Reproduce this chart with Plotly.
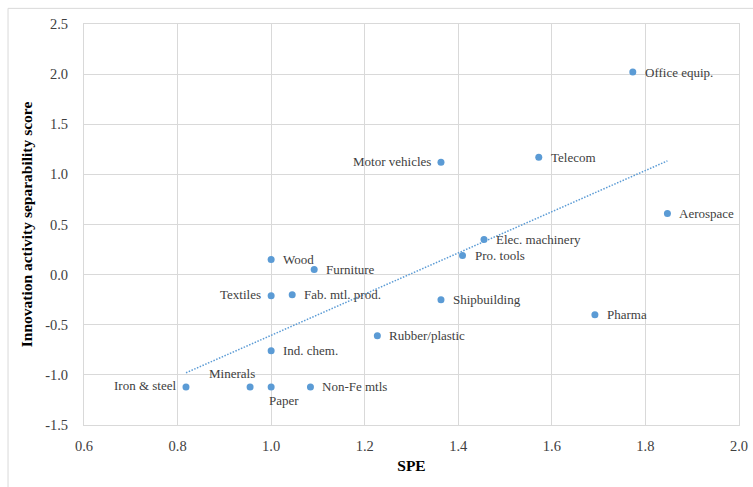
import numpy as np
import plotly.graph_objects as go

# Industry data: specialisation (SPE) vs. innovation activity separability score
industries = [
    "Office equip.", "Telecom", "Motor vehicles", "Aerospace", "Elec. machinery",
    "Pro. tools", "Pharma", "Shipbuilding", "Wood", "Furniture", "Textiles",
    "Fab. mtl. prod.", "Rubber/plastic", "Ind. chem.", "Iron & steel",
    "Minerals", "Paper", "Non-Fe mtls",
]
spe = [1.773, 1.572, 1.363, 1.847, 1.455, 1.409, 1.692, 1.363, 1.000, 1.092, 1.000,
       1.045, 1.227, 1.000, 0.818, 0.955, 1.000, 1.084]
iss = [2.02, 1.17, 1.12, 0.61, 0.35, 0.19, -0.40, -0.25, 0.15, 0.05, -0.21,
       -0.20, -0.61, -0.76, -1.12, -1.12, -1.12, -1.12]

x_ticks = [0.6, 0.8, 1.0, 1.2, 1.4, 1.6, 1.8, 2.0]
y_ticks = [-1.5, -1.0, -0.5, 0.0, 0.5, 1.0, 1.5, 2.0, 2.5]

# label placement around each marker (default: right of point)
label_side = {
    "Motor vehicles": "left",
    "Textiles": "left",
    "Iron & steel": "left",
    "Minerals": "above",
    "Paper": "below",
}

BLUE = "#5B9BD5"
GRID = "#D9D9D9"
SERIF = "Liberation Serif, Times New Roman, serif"

fig = go.Figure()

# linear trend fitted to the data, spanning the data range
slope, intercept = np.polyfit(spe, iss, 1)
tx = np.array([min(spe), max(spe)])
fig.add_trace(go.Scatter(
    x=tx, y=slope * tx + intercept, mode="lines",
    line=dict(color=BLUE, width=1.5, dash="1.5px,1.5px"),
    hoverinfo="skip", showlegend=False,
))

fig.add_trace(go.Scatter(
    x=spe, y=iss, mode="markers",
    marker=dict(color=BLUE, size=7),
    text=industries, hoverinfo="text", showlegend=False,
))

for name, xv, yv in zip(industries, spe, iss):
    side = label_side.get(name, "right")
    ann = dict(x=xv, y=yv, text=name, showarrow=False,
               font=dict(family=SERIF, size=13, color="#404040"))
    if side == "right":
        ann.update(xanchor="left", xshift=10, yshift=0)
    elif side == "left":
        ann.update(xanchor="right", xshift=-8, yshift=1)
    elif side == "above":
        ann.update(xanchor="center", xshift=-18, yshift=13)
    else:
        ann.update(xanchor="center", xshift=13, yshift=-14)
    fig.add_annotation(**ann)

# outer chart frame (top and left edges)
fig.add_shape(type="line", xref="paper", yref="paper",
              x0=-0.116, x1=1.05, y0=1.039, y1=1.039,
              line=dict(color=GRID, width=1))
fig.add_shape(type="line", xref="paper", yref="paper",
              x0=-0.116, x1=-0.116, y0=1.039, y1=-0.2,
              line=dict(color=GRID, width=1))

fig.update_layout(
    width=753, height=487,
    margin=dict(l=84, r=14, t=24, b=62, autoexpand=False),
    paper_bgcolor="white", plot_bgcolor="white",
    font=dict(family=SERIF, color="#404040"),
    xaxis=dict(
        range=[0.6, 2.0], tickvals=x_ticks, ticktext=[f"{v:.1f}" for v in x_ticks],
        showgrid=True, gridcolor=GRID, gridwidth=1,
        showline=True, linecolor=GRID, linewidth=1, mirror=True,
        zeroline=False, ticks="", ticklabelstandoff=8, automargin=False,
        tickfont=dict(family=SERIF, size=14.5, color="#404040"),
        title=dict(text="<b>SPE</b>", standoff=6,
                   font=dict(family=SERIF, size=15.5, color="#000000")),
    ),
    yaxis=dict(
        range=[-1.5, 2.5], tickvals=y_ticks, ticktext=[f"{v:.1f}" for v in y_ticks],
        showgrid=True, gridcolor=GRID, gridwidth=1,
        showline=True, linecolor=GRID, linewidth=1, mirror=True,
        zeroline=False, ticks="", ticklabelstandoff=12, automargin=False,
        tickfont=dict(family=SERIF, size=14.5, color="#404040"),
        title=dict(text="<b>Innovation activity separability score</b>", standoff=8,
                   font=dict(family=SERIF, size=15.5, color="#000000")),
    ),
)

fig.write_html("out.html")
